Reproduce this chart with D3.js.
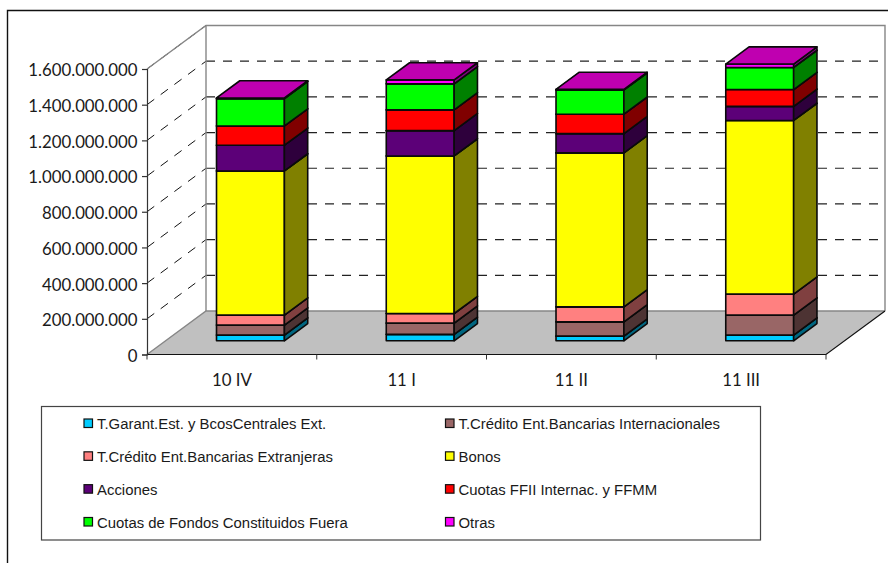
<!DOCTYPE html>
<html>
<head>
<meta charset="utf-8">
<script src="https://cdn.jsdelivr.net/npm/d3@7/dist/d3.min.js"></script>
<style>
  html, body { margin: 0; padding: 0; background: #fff; }
  svg { display: block; }
  text { fill: #1a1a1a; }
</style>
</head>
<body>
<svg id="chart" width="888" height="563"></svg>
<script>
// Quarters on the category axis
const categories = ["10 IV", "11 I", "11 II", "11 III"];

// Stack components, bottom to top
const seriesNames = [
  "T.Garant.Est. y BcosCentrales Ext.",
  "T.Crédito Ent.Bancarias Internacionales",
  "T.Crédito Ent.Bancarias Extranjeras",
  "Bonos",
  "Acciones",
  "Cuotas FFII Internac. y FFMM",
  "Cuotas de Fondos Constituidos Fuera",
  "Otras"
];

// Amount per quarter for each component
const garantEst    = [32000000, 36000000, 26000000, 32000000];
const creditoInt   = [56000000, 63000000, 80000000, 112000000];
const creditoExt   = [56000000, 54000000, 84000000, 118000000];
const bonos        = [808000000, 883000000, 863000000, 973000000];
const acciones     = [144000000, 142000000, 108000000, 79000000];
const cuotasFFII   = [108000000, 116000000, 109000000, 94000000];
const cuotasFondos = [153000000, 146000000, 136000000, 124000000];
const otras        = [4000000, 22000000, 3000000, 19000000];
const seriesValues = [garantEst, creditoInt, creditoExt, bonos, acciones, cuotasFFII, cuotasFondos, otras];

const frontColors = ["#00CCFF", "#996666", "#FF8080", "#FFFF00", "#5C0078", "#FF0000", "#00FF00", "#FF00FF"];
const sideColors  = ["#006680", "#4D3333", "#804040", "#808000", "#2E003C", "#800000", "#008000", "#800080"];
const topColors   = ["#0099BF", "#734D4D", "#BF6060", "#BFBF00", "#45005A", "#BF0000", "#00BF00", "#BF00B0"];

const yTicks = [0, 200000000, 400000000, 600000000, 800000000, 1000000000, 1200000000, 1400000000, 1600000000];

const svg = d3.select("#chart");

// Front plane of the oblique box
const x = d3.scaleBand().domain(categories).range([147, 826]);
const y = d3.scaleLinear().domain([0, 1600000000]).range([354.5, 69]);
// Depth runs from the front plane (0) to the back wall (1)
const depthX = d3.scaleLinear().domain([0, 1]).range([0, 59]);
const depthY = d3.scaleLinear().domain([0, 1]).range([0, -43.5]);

const BAR_WIDTH = 0.4;     // share of the band
const BAR_NEAR = 0.315;    // depth of the bar's front face
const BAR_FAR = 0.71;      // depth of the bar's rear face

const px = (xFront, d) => xFront + depthX(d);
const py = (v, d) => y(v) + depthY(d);
const poly = pts => "M" + pts.map(p => p.join(",")).join("L") + "Z";

const [x0, x1] = x.range();
const yBase = y(0);
const yTop = y(1600000000);

// Floor
svg.append("path")
  .attr("d", poly([[x0, yBase], [x1, yBase], [px(x1, 1), py(0, 1)], [px(x0, 1), py(0, 1)]]))
  .attr("fill", "#C0C0C0");

// Gridlines on the side wall and back wall
const gridTicks = yTicks.slice(1);
svg.append("g").selectAll("line").data(gridTicks).join("line")
  .attr("x1", x0).attr("y1", d => y(d))
  .attr("x2", px(x0, 1)).attr("y2", d => py(d, 1))
  .attr("stroke", "#111").attr("stroke-width", 1)
  .attr("stroke-dasharray", "9 8");
svg.append("g").selectAll("line").data(gridTicks).join("line")
  .attr("x1", px(x0, 1)).attr("y1", d => py(d, 1))
  .attr("x2", px(x1, 1)).attr("y2", d => py(d, 1))
  .attr("stroke", "#222").attr("stroke-width", 1.2)
  .attr("stroke-dasharray", "9 8");

// Wall edges
const edge = "#868686";
svg.append("path")
  .attr("d", `M${x0},${yBase}L${px(x0, 1)},${py(0, 1)}H${px(x1, 1)}`)
  .attr("fill", "none").attr("stroke", edge).attr("stroke-width", 1.4);
svg.append("path")
  .attr("d", `M${x0},${yTop}L${px(x0, 1)},${py(1600000000, 1)}H${px(x1, 1)}V${py(0, 1)}`)
  .attr("fill", "none").attr("stroke", edge).attr("stroke-width", 1.4);
svg.append("line")
  .attr("x1", px(x0, 1)).attr("y1", py(0, 1))
  .attr("x2", px(x0, 1)).attr("y2", py(1600000000, 1))
  .attr("stroke", edge).attr("stroke-width", 1.4);

// Front and right edges of the floor
svg.append("path")
  .attr("d", `M${x0},${yBase}H${x1}L${px(x1, 1)},${py(0, 1)}`)
  .attr("fill", "none").attr("stroke", "#111").attr("stroke-width", 1.2);

// Value axis
const yAxis = svg.append("g")
  .attr("transform", `translate(${x0},0)`)
  .call(d3.axisLeft(y).tickValues(yTicks).tickSize(5).tickPadding(4)
    .tickFormat(d => d3.format(",")(d).replace(/,/g, ".")));
yAxis.selectAll("path, line").attr("stroke", "#333").attr("stroke-width", 1.2);
yAxis.selectAll("text")
  .attr("font-family", "Lato, sans-serif").attr("font-size", 16.8).attr("fill", "#1a1a1a")
  .attr("dx", -0.5).attr("y", 1.5);

// Category axis: ticks sit between the bands
svg.append("g").selectAll("line").data([...categories.map(c => x(c)), x1]).join("line")
  .attr("x1", d => d).attr("x2", d => d)
  .attr("y1", yBase).attr("y2", yBase + 5)
  .attr("stroke", "#333").attr("stroke-width", 1);
svg.append("g").selectAll("text").data(categories).join("text")
  .attr("x", d => x(d) + x.bandwidth() / 2)
  .attr("y", 385.5)
  .attr("text-anchor", "middle")
  .attr("font-family", "Lato, sans-serif").attr("font-size", 16.8)
  .text(d => d);

// Stacked columns, each segment drawn as an oblique prism
const stacked = d3.stack().keys(d3.range(seriesNames.length))
  .value((row, k) => row[k])(categories.map((c, i) => seriesValues.map(s => s[i])));

categories.forEach((cat, ci) => {
  const left = x(cat) + x.bandwidth() * (1 - BAR_WIDTH) / 2;
  const right = left + x.bandwidth() * BAR_WIDTH;
  const g = svg.append("g");
  stacked.forEach((layer, si) => {
    const [v0, v1] = layer[ci];
    const style = sel => sel.attr("stroke", "#0a0a0a").attr("stroke-width", 1.6).attr("stroke-linejoin", "round");
    g.append("path").call(style).attr("fill", frontColors[si])
      .attr("d", poly([[px(left, BAR_NEAR), py(v0, BAR_NEAR)], [px(right, BAR_NEAR), py(v0, BAR_NEAR)],
                       [px(right, BAR_NEAR), py(v1, BAR_NEAR)], [px(left, BAR_NEAR), py(v1, BAR_NEAR)]]));
    g.append("path").call(style).attr("fill", sideColors[si])
      .attr("d", poly([[px(right, BAR_NEAR), py(v0, BAR_NEAR)], [px(right, BAR_FAR), py(v0, BAR_FAR)],
                       [px(right, BAR_FAR), py(v1, BAR_FAR)], [px(right, BAR_NEAR), py(v1, BAR_NEAR)]]));
    g.append("path").call(style).attr("fill", topColors[si])
      .attr("d", poly([[px(left, BAR_NEAR), py(v1, BAR_NEAR)], [px(right, BAR_NEAR), py(v1, BAR_NEAR)],
                       [px(right, BAR_FAR), py(v1, BAR_FAR)], [px(left, BAR_FAR), py(v1, BAR_FAR)]]));
  });
});

// Legend: two columns, filled row by row
svg.append("rect")
  .attr("x", 41.5).attr("y", 406.5).attr("width", 719).attr("height", 133.5)
  .attr("fill", "#fff").attr("stroke", "#444").attr("stroke-width", 1.2);
const legendCol = d3.scalePoint().domain([0, 1]).range([84, 445.5]);
const legendRow = d3.scalePoint().domain([0, 1, 2, 3]).range([423.5, 522]);
const legend = svg.append("g").selectAll("g").data(seriesNames).join("g")
  .attr("transform", (d, i) => `translate(${legendCol(i % 2)},${legendRow(Math.floor(i / 2))})`);
legend.append("rect")
  .attr("x", 0).attr("y", -4.5).attr("width", 8.5).attr("height", 8.5)
  .attr("fill", (d, i) => frontColors[i]).attr("stroke", "#111").attr("stroke-width", 1.2);
legend.append("text")
  .attr("x", 13).attr("y", 5.5)
  .attr("font-family", "'Liberation Sans', Arial, sans-serif").attr("font-size", 14.9)
  .text(d => d);

// Outer frame: only the left and top sides are drawn
svg.append("path")
  .attr("d", "M7.5,563V10.5H888")
  .attr("fill", "none").attr("stroke", "#111").attr("stroke-width", 1.4);
</script>
</body>
</html>
